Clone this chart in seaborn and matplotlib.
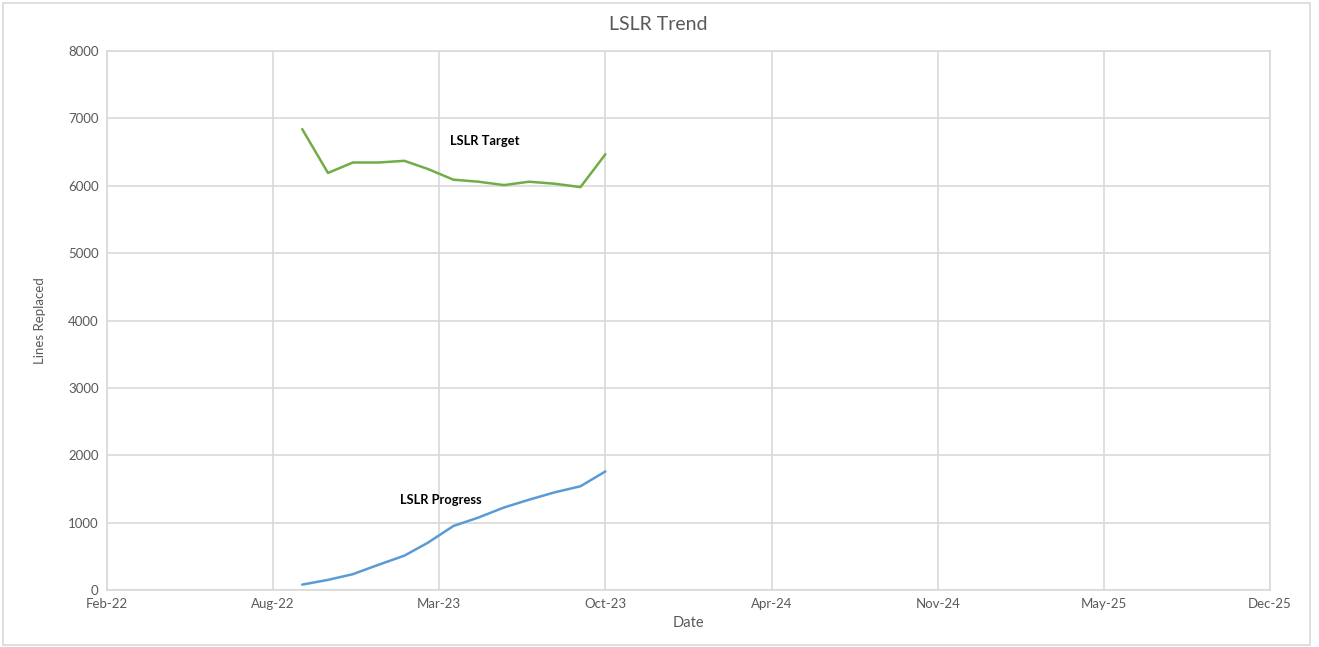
import pandas as pd
import matplotlib.pyplot as plt
import matplotlib.dates as mdates
from matplotlib.patches import Rectangle
import seaborn as sns

# monthly readings, Oct 2022 - Oct 2023
dates = ['2022-10-01', '2022-11-01', '2022-12-01', '2023-01-01', '2023-02-01',
         '2023-03-01', '2023-04-01', '2023-05-01', '2023-06-01', '2023-07-01',
         '2023-08-01', '2023-09-01', '2023-10-01']
target = [6840, 6190, 6345, 6345, 6370, 6250, 6090, 6060, 6010, 6060, 6030, 5980, 6468]
progress = [80, 150, 235, 375, 510, 700, 950, 1075, 1225, 1340, 1450, 1540, 1760]

x_ticks = pd.date_range('2022-02-08', periods=8, freq='200D')

df = pd.DataFrame({'Date': pd.to_datetime(dates), 'LSLR Target': target,
                   'LSLR Progress': progress})

sns.set_theme(style="white")
plt.rcParams['font.family'] = ['Lato', 'DejaVu Sans']
grey_txt = '#595959'
grid_c = '#d9d9d9'

fig = plt.figure(figsize=(13.19, 6.47), dpi=100)
ax = fig.add_axes([107 / 1319, 1 - 590 / 647, (1270 - 107) / 1319, (590 - 51) / 647])

sns.lineplot(data=df, x='Date', y='LSLR Target', ax=ax, color='#70AD47', linewidth=1.8)
sns.lineplot(data=df, x='Date', y='LSLR Progress', ax=ax, color='#5B9BD5', linewidth=1.8)

ax.set_xlim(x_ticks[0], x_ticks[-1])
ax.set_ylim(0, 8000)
ax.set_xticks(x_ticks)
ax.xaxis.set_major_formatter(mdates.DateFormatter('%b-%y'))
ax.set_yticks(range(0, 8001, 1000))
ax.tick_params(colors=grey_txt, labelsize=9.5, length=0, pad=6)
ax.grid(True, color=grid_c, linewidth=1.2)
for s in ax.spines.values():
    s.set_color(grid_c)
    s.set_linewidth(1.2)

ax.set_xlabel('Date', color=grey_txt, fontsize=10.5, labelpad=4)
ax.set_ylabel('Lines Replaced', color=grey_txt, fontsize=9.5, labelpad=16, fontstretch='condensed')
fig.text(658 / 1319, 1 - 24 / 647, 'LSLR Trend', ha='center', va='center',
         fontsize=14, color=grey_txt)

ax.text(pd.Timestamp('2023-05-09'), 6664, 'LSLR Target', fontsize=9.3, fontweight='bold',
        ha='center', va='center', color='black')
ax.text(pd.Timestamp('2023-03-17'), 1336, 'LSLR Progress', fontsize=9.3, fontweight='bold',
        ha='center', va='center', color='black')

fig.patches.append(Rectangle((3 / 1319, 2 / 647), 1307 / 1319, 642 / 647,
                             transform=fig.transFigure, fill=False,
                             edgecolor=grid_c, linewidth=1.2))

fig.savefig('out.png', dpi=100)
